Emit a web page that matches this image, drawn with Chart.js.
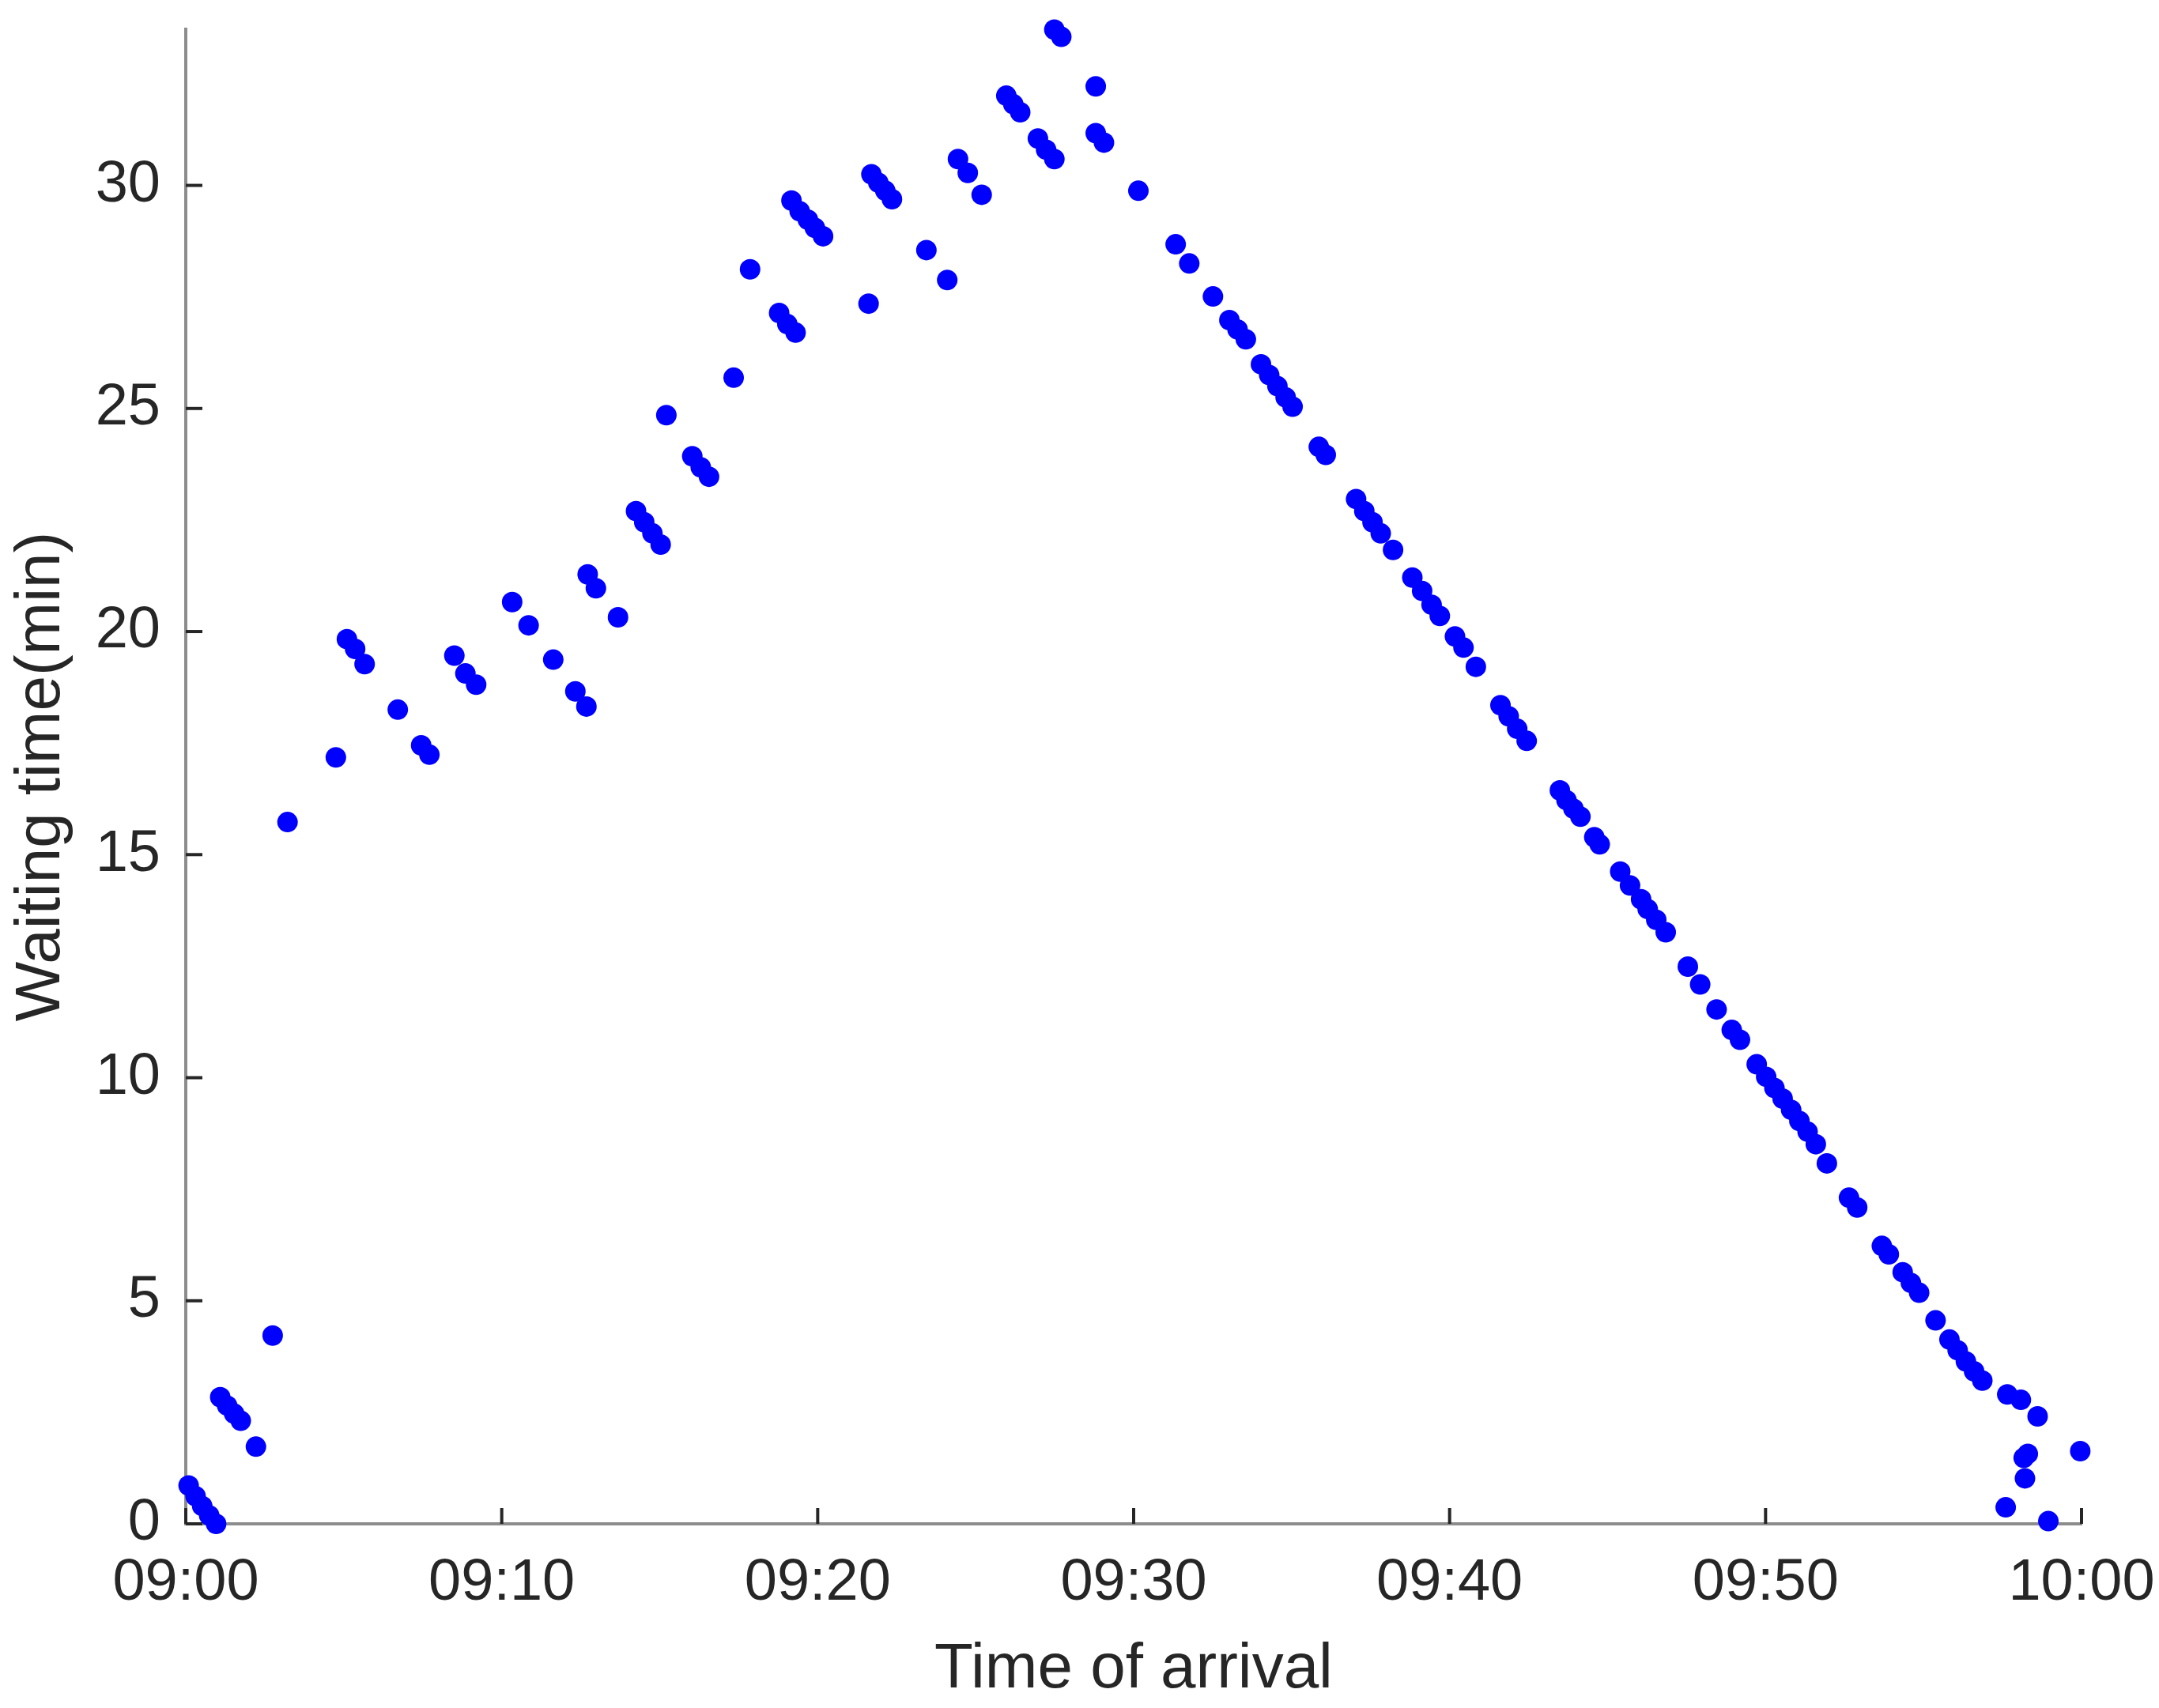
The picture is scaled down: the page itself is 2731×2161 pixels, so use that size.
<!DOCTYPE html>
<html lang="en">
<head>
  <meta charset="UTF-8">
  <title>Waiting time vs time of arrival</title>
  <script src="https://cdn.jsdelivr.net/npm/chart.js"></script>
  <style>
    html, body { margin: 0; padding: 0; background: #fff; }
  </style>
</head>
<body>
  <canvas id="waitChart" width="2731" height="2161"></canvas>

  <script>
    // minutes after 09:00
    const arrivalMin = [
      0.09, 0.31, 0.52, 0.74, 0.96, 1.09, 1.31, 1.53, 1.74, 2.22,
      2.75, 3.22, 4.75, 5.10, 5.36, 5.66, 6.71, 7.45, 7.71, 8.50,
      8.85, 9.19, 10.33, 10.85, 11.63, 12.33, 12.68, 12.72, 12.98, 13.68,
      14.25, 14.51, 14.77, 15.03, 15.21, 16.03, 16.30, 16.56, 17.34, 17.86,
      18.78, 19.04, 19.30, 19.17, 19.43, 19.69, 19.91, 20.17, 21.61, 21.70,
      21.92, 22.14, 22.35, 23.44, 24.10, 24.44, 24.75, 25.19, 25.97, 26.19,
      26.41, 26.97, 27.23, 27.49, 27.49, 27.71, 28.80, 28.80, 29.06, 30.15,
      31.33, 31.76, 32.51, 33.03, 33.29, 33.55, 34.03, 34.29, 34.55, 34.81,
      35.03, 35.86, 36.08, 37.04, 37.30, 37.56, 37.82, 38.21, 38.82, 39.13,
      39.43, 39.69, 40.17, 40.44, 40.83, 41.61, 41.87, 42.14, 42.44, 43.49,
      43.70, 43.92, 44.14, 44.58, 44.75, 45.40, 45.71, 46.06, 46.27, 46.54,
      46.84, 47.54, 47.93, 48.45, 48.93, 49.19, 49.72, 50.02, 50.28, 50.54,
      50.81, 51.07, 51.33, 51.59, 51.94, 52.64, 52.90, 53.68, 53.90, 54.34,
      54.60, 54.86, 55.38, 55.82, 56.08, 56.34, 56.60, 56.86, 57.65, 58.08,
      58.61, 58.17, 58.30, 58.21, 57.60, 58.95, 59.96
    ];
    // waiting time in minutes
    const waitMin = [
      0.86, 0.62, 0.40, 0.19, 0.00, 2.84, 2.65, 2.47, 2.31, 1.73,
      4.22, 15.73, 17.18, 19.83, 19.61, 19.27, 18.25, 17.45, 17.24, 19.46,
      19.06, 18.81, 20.66, 20.14, 19.37, 18.66, 18.32, 21.28, 20.97, 20.32,
      22.70, 22.45, 22.20, 21.95, 24.85, 23.93, 23.68, 23.47, 25.69, 28.12,
      27.14, 26.89, 26.70, 29.66, 29.42, 29.23, 29.05, 28.86, 27.35, 30.25,
      30.06, 29.88, 29.69, 28.55, 27.88, 30.59, 30.28, 29.79, 32.01, 31.82,
      31.64, 31.05, 30.80, 30.59, 33.49, 33.33, 32.22, 31.17, 30.96, 29.88,
      28.68, 28.25, 27.51, 26.98, 26.77, 26.55, 25.99, 25.75, 25.50, 25.25,
      25.04, 24.14, 23.96, 22.97, 22.70, 22.45, 22.20, 21.83, 21.21, 20.91,
      20.60, 20.35, 19.89, 19.64, 19.21, 18.35, 18.10, 17.82, 17.55, 16.44,
      16.22, 16.03, 15.85, 15.39, 15.23, 14.62, 14.31, 14.00, 13.78, 13.54,
      13.26, 12.49, 12.09, 11.53, 11.07, 10.85, 10.30, 10.02, 9.77, 9.53,
      9.28, 9.03, 8.79, 8.51, 8.08, 7.31, 7.09, 6.23, 6.04, 5.64,
      5.40, 5.18, 4.56, 4.13, 3.89, 3.64, 3.42, 3.21, 2.90, 2.78,
      2.41, 1.48, 1.57, 1.02, 0.37, 0.06, 1.63
    ];

    const xTickValues = [0, 10, 20, 30, 40, 50, 60];
    const xTickLabels = ['09:00', '09:10', '09:20', '09:30', '09:40', '09:50', '10:00'];
    const yTickValues = [0, 5, 10, 15, 20, 25, 30];

    const points = arrivalMin.map((t, i) => ({ x: t, y: waitMin[i] }));

    // short tick marks pointing into the plot, like the original
    const inwardTicks = {
      id: 'inwardTicks',
      beforeDatasetsDraw(chart) {
        const { ctx, chartArea, scales } = chart;
        ctx.save();
        ctx.strokeStyle = '#262626';
        ctx.lineWidth = 4;
        scales.x.ticks.forEach(tk => {
          const px = scales.x.getPixelForValue(tk.value);
          ctx.beginPath();
          ctx.moveTo(px, chartArea.bottom);
          ctx.lineTo(px, chartArea.bottom - 20);
          ctx.stroke();
        });
        scales.y.ticks.forEach(tk => {
          const py = scales.y.getPixelForValue(tk.value);
          ctx.beginPath();
          ctx.moveTo(chartArea.left, py);
          ctx.lineTo(chartArea.left + 21, py);
          ctx.stroke();
        });
        ctx.restore();
      }
    };

    const ctx = document.getElementById('waitChart').getContext('2d');
    new Chart(ctx, {
      type: 'scatter',
      data: {
        datasets: [{
          label: 'Waiting time',
          data: points,
          backgroundColor: '#0000ff',
          borderColor: '#0000ff',
          borderWidth: 0,
          pointRadius: 13,
          clip: false
        }]
      },
      options: {
        responsive: false,
        animation: false,
        layout: { padding: { top: 37, right: 98, left: 0, bottom: 0 } },
        plugins: {
          legend: { display: false },
          tooltip: { enabled: false }
        },
        scales: {
          x: {
            type: 'linear',
            min: 0,
            max: 60,
            afterBuildTicks: scale => { scale.ticks = xTickValues.map(v => ({ value: v })); },
            afterFit: scale => {
              scale.height = 233;
              scale.paddingLeft = 0;
              scale.paddingRight = 0;
            },
            grid: { display: false, drawTicks: false },
            border: { display: true, color: '#8c8c8c', width: 4 },
            ticks: {
              padding: 31,
              color: '#262626',
              font: { family: 'Liberation Sans, Arial, sans-serif', size: 74 },
              maxRotation: 0,
              callback: (v) => xTickLabels[xTickValues.indexOf(v)]
            },
            title: {
              display: true,
              text: 'Time of arrival',
              color: '#262626',
              font: { family: 'Liberation Sans, Arial, sans-serif', size: 80 },
              padding: { top: 0, bottom: 0 }
            }
          },
          y: {
            type: 'linear',
            min: 0,
            max: 33.5,
            afterBuildTicks: scale => { scale.ticks = yTickValues.map(v => ({ value: v })); },
            afterFit: scale => {
              scale.width = 235;
              scale.paddingTop = 0;
              scale.paddingBottom = 0;
            },
            grid: { display: false, drawTicks: false },
            border: { display: true, color: '#8c8c8c', width: 4 },
            ticks: {
              padding: 32,
              color: '#262626',
              font: { family: 'Liberation Sans, Arial, sans-serif', size: 74 }
            },
            title: {
              display: true,
              text: 'Waiting time(min)',
              color: '#262626',
              font: { family: 'Liberation Sans, Arial, sans-serif', size: 80 },
              padding: { top: 5, bottom: 0 }
            }
          }
        }
      },
      plugins: [inwardTicks]
    });
  </script>
</body>
</html>
